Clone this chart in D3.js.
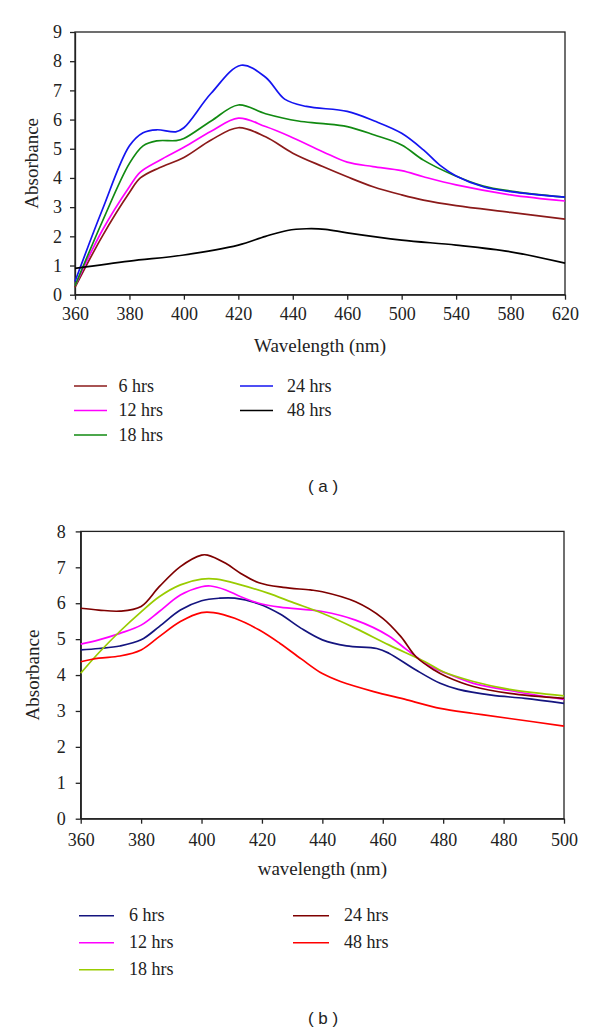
<!DOCTYPE html>
<html>
<head>
<meta charset="utf-8">
<script src="https://d3js.org/d3.v7.min.js"></script>
<style>
  html, body { margin: 0; padding: 0; background: #fff; }
  svg { display: block; }
</style>
</head>
<body>
<script>
// ---------------- DATA ----------------
// Chart (a)
const xTicksA = [360, 380, 400, 420, 440, 460, 500, 540, 580, 620];
const yTicksA = [0, 1, 2, 3, 4, 5, 6, 7, 8, 9];
const seriesNamesA = ["6 hrs", "12 hrs", "18 hrs", "24 hrs", "48 hrs"];
const colorsA = ["#8B1A1A", "#FF00FF", "#118A11", "#1414F0", "#000000"];

const a6x  = [360,370,380,384,391,400,410,420,430,440,451,460,479,500,516,540,580,620];
const a6y  = [0.25,2.0,3.5,4.0,4.35,4.7,5.3,5.72,5.41,4.85,4.39,4.04,3.70,3.42,3.24,3.05,2.82,2.59];
const a12x = [360,370,380,384,391,400,410,420,430,439,451,460,479,500,516,540,580,620];
const a12y = [0.3,2.2,3.7,4.2,4.6,5.05,5.6,6.05,5.76,5.42,4.90,4.54,4.39,4.25,4.04,3.76,3.42,3.21];
const a18x = [360,370,380,385,390,397,400,410,420,430,442,450,460,480,500,516,538,560,580,620];
const a18y = [0.3,2.5,4.5,5.1,5.27,5.28,5.35,5.95,6.5,6.2,5.95,5.87,5.76,5.47,5.13,4.61,4.1,3.72,3.55,3.34];
const a24x = [360,370,380,385,390,397,400,410,421,430,437,445,460,480,500,516,528,540,560,580,620];
const a24y = [0.45,2.9,5.1,5.55,5.65,5.58,5.72,6.9,7.86,7.45,6.7,6.45,6.28,5.95,5.53,4.96,4.44,4.07,3.70,3.53,3.34];
const a48x = [360,380,400,420,430,438,445,452,460,500,540,580,620];
const a48y = [0.9,1.15,1.36,1.70,2.0,2.2,2.26,2.24,2.12,1.87,1.70,1.47,1.08];

// Chart (b)  (x = nominal tick position; labels as printed, incl. repeated 480)
const xTickValsB = [360, 380, 400, 420, 440, 460, 480, 500, 520];
const xTickLabelsB = ["360", "380", "400", "420", "440", "460", "480", "480", "500"];
const yTicksB = [0, 1, 2, 3, 4, 5, 6, 7, 8];
const seriesNamesB = ["6 hrs", "12 hrs", "18 hrs", "24 hrs", "48 hrs"];
const colorsB = ["#14147F", "#FF00FF", "#99CC00", "#7F0000", "#FF0000"];

const b6x  = [360,366,373,380,386,393,400,406,411,419,426,433,440,448,458,462,471,479,485,496,507,520];
const b6y  = [4.70,4.74,4.81,4.98,5.35,5.81,6.07,6.14,6.14,5.98,5.7,5.3,4.98,4.81,4.74,4.61,4.14,3.77,3.60,3.44,3.35,3.21];
const b12x = [360,366,373,380,386,393,400,403,408,413,419,426,440,451,462,468,476,481,490,502,520];
const b12y = [4.86,4.98,5.16,5.39,5.77,6.23,6.46,6.48,6.37,6.18,6.0,5.89,5.77,5.53,5.09,4.70,4.23,4.05,3.77,3.57,3.32];
const b18x = [360,366,373,380,386,393,400,405,413,422,430,440,451,462,474,480,490,502,520];
const b18y = [4.05,4.62,5.22,5.76,6.18,6.51,6.67,6.67,6.51,6.28,6.03,5.72,5.30,4.84,4.37,4.09,3.82,3.60,3.42];
const b24x = [360,366,373,380,386,393,400,402,408,413,419,427,436,440,451,460,466,471,477,481,490,502,520];
const b24y = [5.86,5.81,5.78,5.91,6.46,7.02,7.34,7.34,7.11,6.83,6.57,6.44,6.37,6.32,6.04,5.58,5.07,4.51,4.14,3.96,3.68,3.49,3.35];
const b48x = [360,366,373,380,386,393,400,404,411,419,426,433,440,446,457,468,479,490,502,520];
const b48y = [4.37,4.47,4.53,4.70,5.07,5.49,5.74,5.74,5.58,5.26,4.88,4.45,4.04,3.82,3.54,3.31,3.07,2.93,2.79,2.58];

// ---------------- DRAW ----------------
const W = 600, H = 1033;
const svg = d3.select("body").append("svg").attr("width", W).attr("height", H);
svg.append("rect").attr("width", W).attr("height", H).attr("fill", "#fff");

const serif = '"Liberation Serif", "Times New Roman", serif';
const sans = '"Liberation Sans", Arial, sans-serif';
const line = (x, y) => d3.line().x(d => x(d[0])).y(d => y(d[1])).curve(d3.curveCatmullRom.alpha(0.5));
const zip = (xs, ys) => xs.map((v, i) => [v, ys[i]]);

function drawChart(cfg) {
  const { x, y, left, right, top, bottom, xTickVals, xFmt, yTicks, series, colors,
          xTitle, xTitleY, yTitleX, xPad, yPad } = cfg;
  const g = svg.append("g");
  g.append("rect").attr("x", left).attr("y", top).attr("width", right - left).attr("height", bottom - top)
    .attr("fill", "none").attr("stroke", "#222").attr("stroke-width", 1.3);

  const xAxis = d3.axisBottom(x).tickValues(xTickVals).tickFormat(xFmt).tickSize(5).tickSizeOuter(0).tickPadding(xPad);
  const yAxis = d3.axisLeft(y).tickValues(yTicks).tickFormat(d3.format("d")).tickSize(5).tickSizeOuter(0).tickPadding(yPad);
  const gx = g.append("g").attr("transform", `translate(0,${bottom})`).call(xAxis);
  const gy = g.append("g").attr("transform", `translate(${left},0)`).call(yAxis);
  [gx, gy].forEach(a => {
    a.attr("font-family", serif).attr("font-size", 18);
    a.select(".domain").attr("stroke", "#222").attr("stroke-width", 1.3);
    a.selectAll(".tick line").attr("stroke", "#222").attr("stroke-width", 1.3);
    a.selectAll(".tick text").attr("font-family", serif).attr("font-size", 18).attr("fill", "#222");
  });

  series.forEach((s, i) => {
    g.append("path").datum(s).attr("d", line(x, y)).attr("fill", "none")
      .attr("stroke", colors[i]).attr("stroke-width", 1.7).attr("stroke-linejoin", "round");
  });

  g.append("text").attr("x", (left + right) / 2).attr("y", xTitleY).attr("text-anchor", "middle")
    .attr("font-family", serif).attr("font-size", 19).attr("fill", "#222").text(xTitle);
  g.append("text").attr("transform", `translate(${yTitleX},${(top + bottom) / 2}) rotate(-90)`)
    .attr("text-anchor", "middle").attr("font-family", serif).attr("font-size", 19).attr("fill", "#222")
    .text("Absorbance");
}

function drawLegend(names, colors, cols) {
  names.forEach((n, i) => {
    const c = cols[i];
    svg.append("line").attr("x1", c.x1).attr("x2", c.x2).attr("y1", c.y).attr("y2", c.y)
      .attr("stroke", colors[i]).attr("stroke-width", 1.6);
    svg.append("text").attr("x", c.tx).attr("y", c.y + 5.5).attr("font-family", serif)
      .attr("font-size", 18).attr("fill", "#222").text(n);
  });
}

// Chart (a)
const aLeft = 75, aRight = 565, aTop = 32, aBottom = 294.7;
const xA = d3.scaleLinear().domain(xTicksA)
  .range(xTicksA.map((d, i) => aLeft + i * (aRight - aLeft) / (xTicksA.length - 1)));
const yA = d3.scaleLinear().domain([0, 9]).range([aBottom, aTop]);
drawChart({
  x: xA, y: yA, left: aLeft, right: aRight, top: aTop, bottom: aBottom,
  xTickVals: xTicksA, xFmt: d3.format("d"), yTicks: yTicksA,
  series: [zip(a6x, a6y), zip(a12x, a12y), zip(a18x, a18y), zip(a24x, a24y), zip(a48x, a48y)],
  colors: colorsA, xTitle: "Wavelength (nm)", xTitleY: 351.7, yTitleX: 38, xPad: 8, yPad: 8
});
drawLegend(seriesNamesA, colorsA, [
  { x1: 74, x2: 107, y: 386, tx: 118.5 },
  { x1: 74, x2: 107, y: 410.5, tx: 118.5 },
  { x1: 74, x2: 107, y: 435, tx: 118.5 },
  { x1: 240, x2: 273, y: 386, tx: 287 },
  { x1: 240, x2: 273, y: 410.5, tx: 287 }
]);
svg.append("text").attr("x", 323).attr("y", 491.5).attr("text-anchor", "middle")
  .attr("font-family", sans).attr("font-size", 17).attr("fill", "#222").text("( a )");

// Chart (b)
const bLeft = 80.7, bRight = 564, bTop = 531.4, bBottom = 818.7;
const xB = d3.scaleLinear().domain([xTickValsB[0], xTickValsB[xTickValsB.length - 1]]).range([bLeft, bRight]);
const yB = d3.scaleLinear().domain([0, 8]).range([bBottom, bTop]);
drawChart({
  x: xB, y: yB, left: bLeft, right: bRight, top: bTop, bottom: bBottom,
  xTickVals: xTickValsB, xFmt: (d, i) => xTickLabelsB[i], yTicks: yTicksB,
  series: [zip(b6x, b6y), zip(b12x, b12y), zip(b18x, b18y), zip(b24x, b24y), zip(b48x, b48y)],
  colors: colorsB, xTitle: "wavelength (nm)", xTitleY: 875, yTitleX: 39, xPad: 10, yPad: 10
});
drawLegend(seriesNamesB, colorsB, [
  { x1: 79, x2: 114, y: 915.7, tx: 129 },
  { x1: 79, x2: 114, y: 942.7, tx: 129 },
  { x1: 79, x2: 114, y: 969.7, tx: 129 },
  { x1: 293, x2: 329, y: 915.7, tx: 344 },
  { x1: 293, x2: 329, y: 942.7, tx: 344 }
]);
svg.append("text").attr("x", 323).attr("y", 1024).attr("text-anchor", "middle")
  .attr("font-family", sans).attr("font-size", 17).attr("fill", "#222").text("( b )");
</script>
</body>
</html>
